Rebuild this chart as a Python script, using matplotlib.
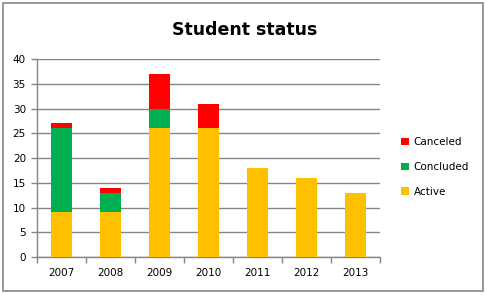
import matplotlib.pyplot as plt
import numpy as np
from matplotlib.patches import Rectangle

years = ['2007', '2008', '2009', '2010', '2011', '2012', '2013']
active = [9, 9, 26, 26, 18, 16, 13]
concluded = [17, 4, 4, 0, 0, 0, 0]
canceled = [1, 1, 7, 5, 0, 0, 0]

plt.rcParams['font.family'] = ['DejaVu Sans']
fig = plt.figure(figsize=(4.87, 2.95), dpi=100)
ax = fig.add_axes([37 / 487, 1 - 257 / 295, 343 / 487, 198 / 295])

x = np.arange(len(years))
w = 0.41
ax.bar(x, active, w, color='#FFC000', label='Active', zorder=3)
ax.bar(x, concluded, w, bottom=active, color='#00B050', label='Concluded', zorder=3)
bottom2 = np.array(active) + np.array(concluded)
ax.bar(x, canceled, w, bottom=bottom2, color='#FF0000', label='Canceled', zorder=3)

ax.set_xlim(-0.5, len(years) - 0.5)
ax.set_ylim(0, 40)
ax.set_yticks(range(0, 41, 5))
ax.yaxis.grid(True, color='#868686', linewidth=1.0, zorder=0)
for s in ['top', 'right']:
    ax.spines[s].set_visible(False)
for s in ['left', 'bottom']:
    ax.spines[s].set_color('#868686')
    ax.spines[s].set_linewidth(1.0)

# category labels centred, ticks between categories
ax.set_xticks(x)
ax.set_xticklabels(years)
ax.tick_params(axis='x', length=0, pad=8, labelsize=7.5)
ax.set_xticks(np.arange(-0.5, len(years)), minor=True)
ax.tick_params(axis='x', which='minor', length=4, color='#868686', width=1.0)
ax.tick_params(axis='y', length=4, color='#868686', width=1.0, labelsize=7.5, pad=4)

fig.text(245 / 487, 1 - 30 / 295, 'Student status', ha='center', va='center',
         fontsize=12.5, fontweight='bold')

handles, labels = ax.get_legend_handles_labels()
leg = fig.legend(handles[::-1], labels[::-1], loc='center left',
                 bbox_to_anchor=(392 / 487, 1 - 167 / 295), frameon=False,
                 fontsize=7.5, handlelength=0.7, handleheight=0.7,
                 handletextpad=0.5, labelspacing=1.4)

# chart border like the spreadsheet frame
fig.patches.append(Rectangle((3 / 487, 4 / 295), 480 / 487, 288 / 295,
                             transform=fig.transFigure, fill=False,
                             edgecolor='#868686', linewidth=1.2))

fig.savefig('out.png', dpi=100)
